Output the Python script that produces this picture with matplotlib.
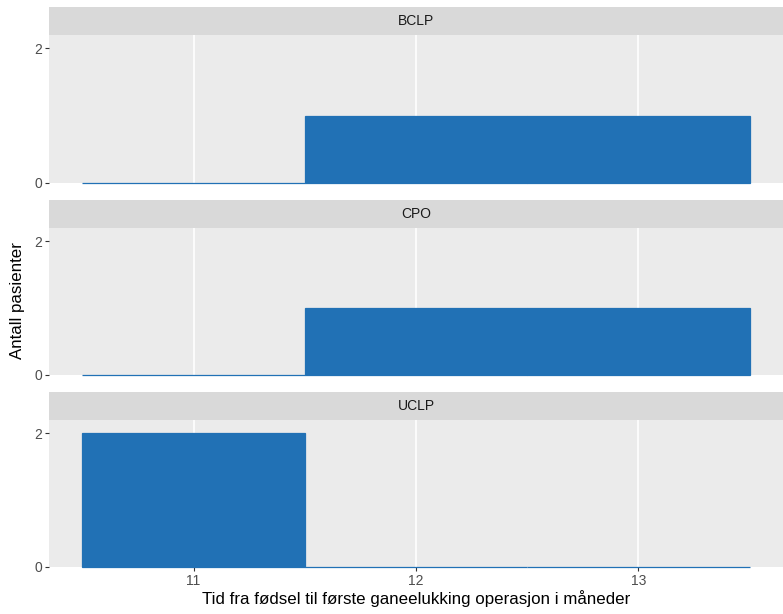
import numpy as np
import matplotlib.pyplot as plt

plt.rcParams['font.family'] = ['Liberation Sans', 'DejaVu Sans']

# Data: monthly bins (centres) and counts per diagnosis group
months = [11, 12, 13]
groups = ['BCLP', 'CPO', 'UCLP']
counts = {
    'BCLP': [0, 1, 1],
    'CPO': [0, 1, 1],
    'UCLP': [2, 0, 0],
}
y_ticks = [0, 2]

W, H = 783, 614
fig = plt.figure(figsize=(W / 100, H / 100), dpi=100)

bar_color = '#2171B5'
left, right = 49, 783
strip_h = 28
panels = [(35, 183), (228, 375), (420, 567)]  # (top, bottom) in px

for i, (g, (top, bot)) in enumerate(zip(groups, panels)):
    ax = fig.add_axes([left / W, 1 - bot / H, (right - left) / W, (bot - top) / H])
    ax.set_facecolor('#EBEBEB')
    ax.bar(months, counts[g], width=1.0, color=bar_color, edgecolor=bar_color,
           linewidth=0.9, zorder=3, clip_on=False)
    ax.set_xlim(10.35, 13.65)
    ax.set_ylim(0, 2.2)
    ax.set_xticks(months)
    ax.set_yticks(y_ticks)
    ax.grid(axis='x', color='white', linewidth=1.2, zorder=0)
    ax.set_axisbelow(True)
    for s in ax.spines.values():
        s.set_visible(False)
    ax.tick_params(axis='y', length=3, width=0.8, color='#333333',
                   labelcolor='#4D4D4D', labelsize=10, pad=2)
    if i < 2:
        ax.tick_params(axis='x', length=0, labelbottom=False)
    else:
        ax.tick_params(axis='x', length=3, width=0.8, color='#333333',
                       labelcolor='#4D4D4D', labelsize=10, pad=2)

    # facet strip
    sax = fig.add_axes([left / W, 1 - top / H, (right - left) / W, strip_h / H])
    sax.set_facecolor('#D9D9D9')
    sax.set_xticks([])
    sax.set_yticks([])
    for s in sax.spines.values():
        s.set_visible(False)
    sax.text(0.5, 0.5, g, ha='center', va='center', fontsize=10, color='#1A1A1A',
             transform=sax.transAxes)

fig.text((left + right) / 2 / W, 1 - 599 / H,
         'Tid fra fødsel til første ganeelukking operasjon i måneder',
         ha='center', va='center', fontsize=12.2, color='black')
fig.text(18 / W, 1 - 301 / H, 'Antall pasienter', rotation=90,
         ha='center', va='center', fontsize=12.2, color='black')

fig.savefig('out.png', dpi=100)
